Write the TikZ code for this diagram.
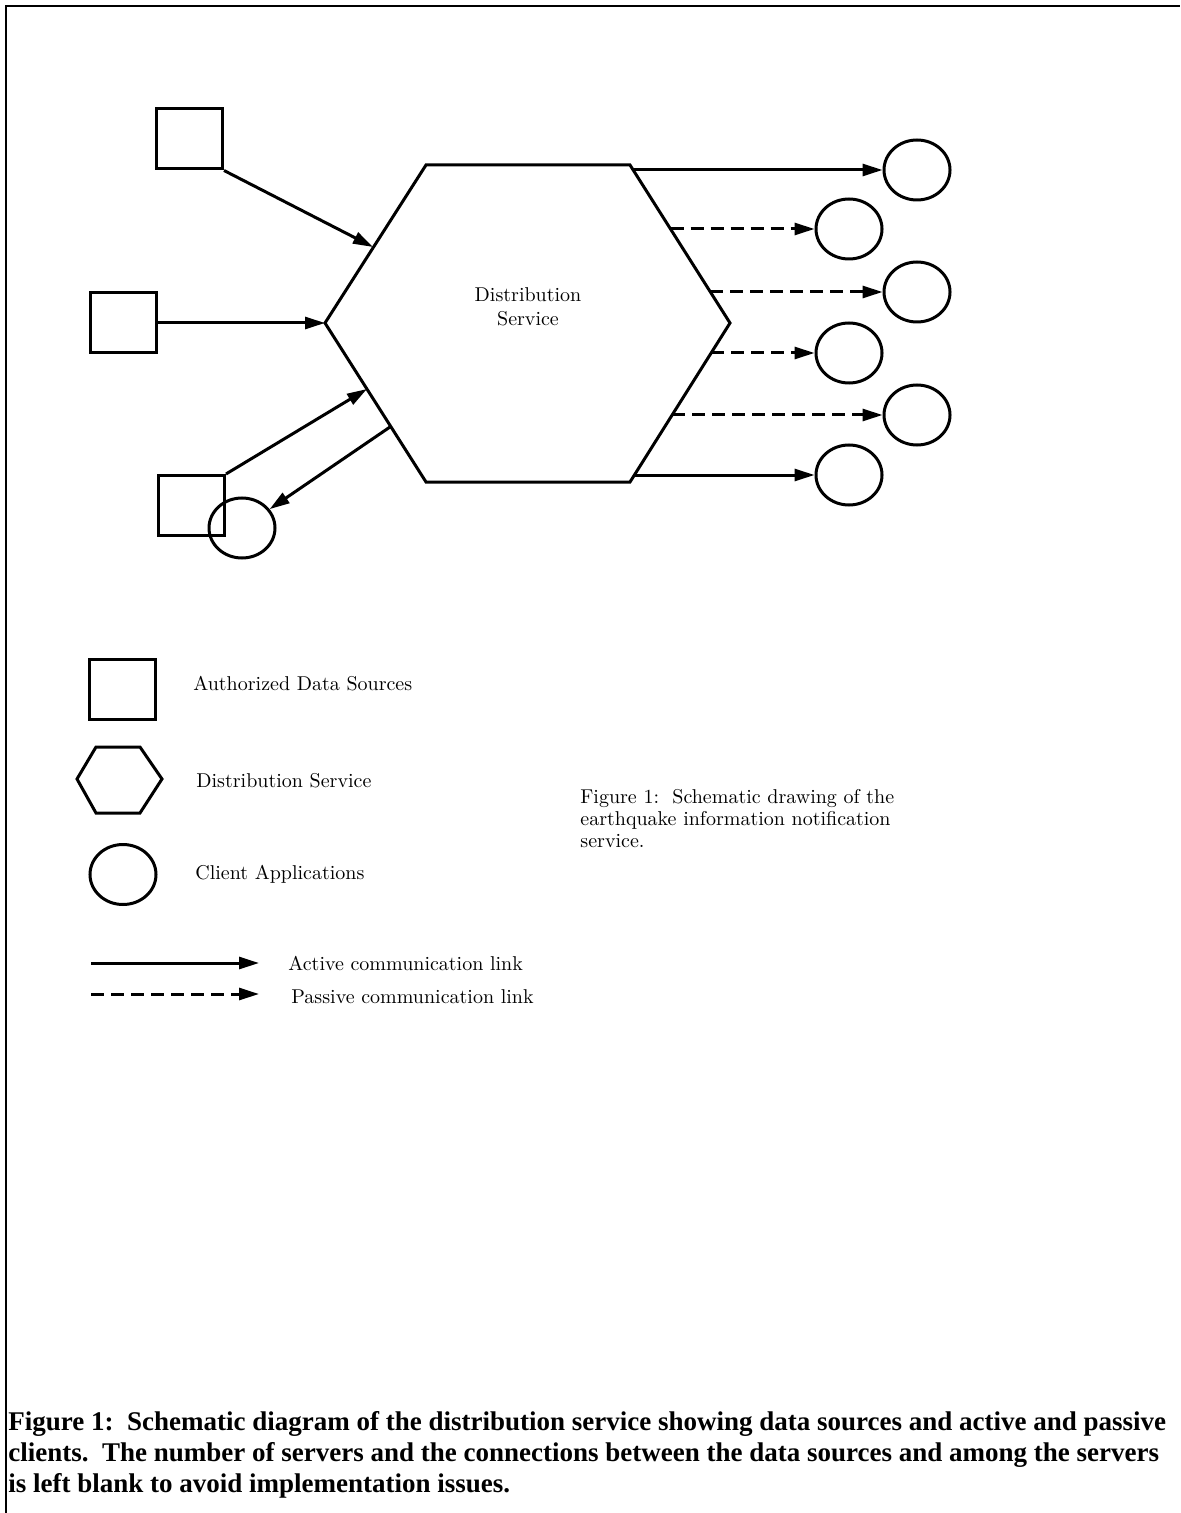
\documentclass[tikz,border=0pt]{standalone}
\usepackage{fontspec}
\newfontfamily\capfont{Liberation Serif}
\usetikzlibrary{arrows.meta,shapes.geometric}
\begin{document}
\begin{tikzpicture}[x=0.5pt,y=-0.5pt]
  \tikzset{source node/.style={rectangle,draw=black,line width=1.5pt,minimum width=33pt,minimum height=30pt,inner sep=0pt},
           client node/.style={ellipse,draw=black,line width=1.5pt,minimum width=33pt,minimum height=30pt,inner sep=0pt},
           active link/.style={line width=1.5pt,-{Triangle[length=10pt,width=6pt]}},
           passive link/.style={active link,dash pattern=on 6.5pt off 3.5pt},
           legend text/.style={anchor=west,inner sep=0pt}}
  \useasboundingbox (0,0) rectangle (1180,1513);
  \draw[line width=1.2pt] (6,1513) -- (6,6) -- (1180,6);

  \coordinate (hnw) at (426,165);
  \coordinate (hne) at (630,165);
  \coordinate (he) at (730,323);
  \coordinate (hse) at (630,482);
  \coordinate (hsw) at (426,482);
  \coordinate (hw) at (325,323);
  \draw[line width=1.5pt] (hnw) -- (hne) -- (he) -- (hse) -- (hsw) -- (hw) -- cycle;
  \node[align=center] (dslabel) at (528,307) {Distribution\\Service};

  \node[source node] (s1) at (189.5,139) {};
  \node[source node] (s2) at (123.5,323) {};
  \node[source node] (s3) at (191.5,505.5) {};
  \node[client node] (cl) at (242,528) {};

  \coordinate (in1) at (373,247);
  \coordinate (in3) at (367,389);
  \coordinate (back) at (390,427);
  \draw[active link] (s1.south east) -- (in1);
  \draw[active link] (s2.east) -- (hw);
  \draw[active link] (s3.north east) -- (in3);
  \draw[active link] (back) -- (cl);

  \node[client node] (c1) at (917,170) {};
  \node[client node] (c2) at (849,229) {};
  \node[client node] (c3) at (917,292) {};
  \node[client node] (c4) at (849,353) {};
  \node[client node] (c5) at (917,415) {};
  \node[client node] (c6) at (849,475) {};

  \coordinate (o1) at (633,170);
  \coordinate (o2) at (670.5,229);
  \coordinate (o3) at (710,292);
  \coordinate (o4) at (711,353);
  \coordinate (o5) at (672,415);
  \coordinate (o6) at (634,475);
  \draw[active link] (o1) -- (c1);
  \draw[passive link] (o2) -- (c2);
  \draw[passive link] (o3) -- (c3);
  \draw[passive link] (o4) -- (c4);
  \draw[passive link] (o5) -- (c5);
  \draw[active link] (o6) -- (c6);

  \node[source node] (keysource) at (122,689) {};
  \node[legend text] (keysourcetext) at (193,684) {Authorized Data Sources};
  \draw[line width=1.5pt] (77,779) -- (96,747) -- (140,747) -- (162,779) -- (140,813) -- (96,813) -- cycle;
  \node[legend text] (keyservicetext) at (196,781) {Distribution Service};
  \node[client node] (keyclient) at (123,874.5) {};
  \node[legend text] (keyclienttext) at (195,874) {Client Applications};
  \coordinate (ka1) at (91,963);
  \coordinate (ka2) at (259,963);
  \coordinate (kp1) at (91,994);
  \coordinate (kp2) at (259,994);
  \draw[active link] (ka1) -- (ka2);
  \draw[passive link] (kp1) -- (kp2);
  \node[legend text] (keyactive) at (288,963) {Active communication link};
  \node[legend text] (keypassive) at (291,997) {Passive communication link};

  \node[anchor=north west,align=left,inner sep=0pt,font=\fontsize{10}{11}\selectfont] (figtext) at (580,789)
    {Figure 1:\ \ Schematic drawing of the\\earthquake information notification\\service.};

  \node[anchor=north west,align=left,inner sep=0pt,font=\capfont\bfseries\fontsize{13.5}{15.5}\selectfont] (caption) at (8,1411)
    {Figure 1:\ \ Schematic diagram of the distribution service showing data sources and active and passive\\
     clients.\ \ The number of servers and the connections between the data sources and among the servers\\
     is left blank to avoid implementation issues.};
\end{tikzpicture}
\end{document}
